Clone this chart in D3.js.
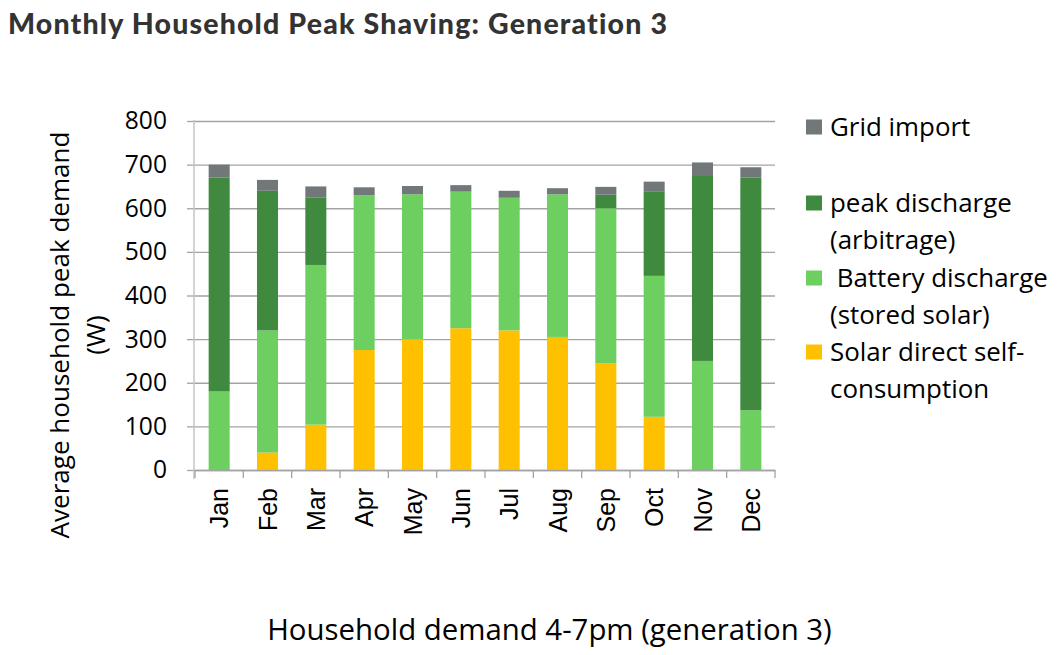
<!DOCTYPE html>
<html><head><meta charset="utf-8">
<script src="https://cdn.jsdelivr.net/npm/d3@7"></script>
<style>body{margin:0;background:#fff}svg{display:block}text{font-variant-ligatures:none}</style>
</head><body>
<svg id="c" width="1062" height="655"></svg>
<script>
const months = ["Jan","Feb","Mar","Apr","May","Jun","Jul","Aug","Sep","Oct","Nov","Dec"];
const solarDirect   = [0, 40, 104, 275, 300, 325, 320, 305, 244, 122, 0, 0];
const batteryStored = [180, 280, 366, 355, 332, 313, 304, 327, 356, 323, 250, 137];
const peakArbitrage = [490, 320, 155, 0, 0, 0, 0, 0, 31, 194, 426, 533];
const gridImport    = [30, 25, 25, 18, 19, 15, 16, 14, 18, 22, 29, 24];
const yTicks = [0,100,200,300,400,500,600,700,800];
const seriesKeys = ["solar","battery","peak","grid"];
const legendItems = [
  {key:"grid", lines:["Grid import"]},
  {key:"peak", lines:["peak discharge","(arbitrage)"]},
  {key:"battery", lines:[" Battery discharge","(stored solar)"]},
  {key:"solar", lines:["Solar direct self-","consumption"]}
];
const colors = {solar:"#FFC000", battery:"#6DCF5F", peak:"#3F8A3E", grid:"#727879"};

const rows = months.map((m,i)=>({month:m, solar:solarDirect[i], battery:batteryStored[i], peak:peakArbitrage[i], grid:gridImport[i]}));
const stacked = d3.stack().keys(seriesKeys)(rows);

const svg = d3.select("#c");
const font = "'Open Sans', sans-serif";
const pLeft = 195, pRight = 775, pTop = 121, pBottom = 470;

function fitSize(sel, target) {
  const w = sel.node().getComputedTextLength();
  const fs = +sel.attr("font-size");
  if (w > 0) sel.attr("font-size", fs * target / w);
  return fs * target / w;
}

const x = d3.scaleBand().domain(months).range([pLeft, pRight]).paddingInner(0.565).paddingOuter(0.2825);
const y = d3.scaleLinear().domain([0, 800]).range([pBottom, pTop]);

// title
const title = svg.append("text").attr("x", 8).attr("y", 33.5).attr("font-family", "Lato, sans-serif").attr("font-weight", 900)
  .attr("font-size", 28.5).attr("fill", "#333").text("Monthly Household Peak Shaving: Generation 3");
{
  const s = title.text();
  const w = title.node().getComputedTextLength();
  title.attr("letter-spacing", (659 - w) / (s.length - 1));
}

// gridlines
const grid = svg.append("g").attr("transform", `translate(${pLeft},0)`)
  .call(d3.axisLeft(y).tickValues(yTicks).tickSize(-(pRight - pLeft)).tickFormat(""));
grid.select(".domain").remove();
grid.selectAll("line").attr("stroke", "#a3a3a3").attr("stroke-width", 1.3);

// y axis with ticks & labels
const ya = svg.append("g").attr("transform", `translate(${pLeft},0)`)
  .call(d3.axisLeft(y).tickValues(yTicks).tickSize(8).tickPadding(20).tickSizeOuter(0));
ya.select(".domain").remove();
ya.selectAll("line").attr("stroke", "#a3a3a3").attr("stroke-width", 1.3);
ya.selectAll("text").attr("font-family", font).attr("font-size", 24.6).attr("fill", "#000");

// vertical axis line
svg.append("line").attr("x1", pLeft - 1).attr("x2", pLeft - 1).attr("y1", y(800) - 1).attr("y2", y(0) + 9)
  .attr("stroke", "#c4c4c4").attr("stroke-width", 1.5);

// bars
svg.append("g").selectAll("g").data(stacked).join("g")
  .attr("fill", d => colors[d.key])
  .selectAll("rect").data(d => d).join("rect")
  .attr("x", d => x(d.data.month))
  .attr("width", x.bandwidth())
  .attr("y", d => y(d[1]))
  .attr("height", d => y(d[0]) - y(d[1]));

// x axis
const xa = svg.append("g").attr("transform", `translate(0,${pBottom})`)
  .call(d3.axisBottom(x).tickSize(0).tickPadding(0));
xa.select(".domain").attr("stroke", "#a3a3a3").attr("stroke-width", 1.3);
xa.selectAll("text").attr("font-family", "'Liberation Sans', Arial, sans-serif").attr("font-size", 25).attr("fill", "#000")
  .attr("text-anchor", "end").attr("dy", "0.36em")
  .attr("transform", "translate(0,18) rotate(-90)");
const gap = (x.step() - x.bandwidth()) / 2;
const edges = months.map(m => x(m) - gap).concat([x(months[months.length-1]) + x.bandwidth() + gap]);
svg.append("g").selectAll("line").data(edges).join("line")
  .attr("x1", d => d).attr("x2", d => d).attr("y1", pBottom).attr("y2", pBottom + 8)
  .attr("stroke", "#a3a3a3").attr("stroke-width", 1.3);

// y axis title
const yt = svg.append("text").attr("transform", "translate(60,335) rotate(-90)")
  .attr("font-family", font).attr("font-size", 25).attr("fill", "#000").attr("text-anchor", "middle");
const yt1 = yt.append("tspan").attr("x", 0).attr("dy", "0.35em").text("Average household peak demand");
yt.append("tspan").attr("x", 0).attr("dy", 36).text("(W)");
{
  const w = yt1.node().getComputedTextLength();
  yt.attr("font-size", 25 * 407 / w);
}

// x axis title
const xt = svg.append("text").attr("x", 549.5).attr("y", 640).attr("font-family", font).attr("font-size", 27)
  .attr("fill", "#000").attr("text-anchor", "middle").text("Household demand 4-7pm (generation 3)");
fitSize(xt, 565);

// legend
const legendY = {grid:127, peak:203, battery:278, solar:352};
const lg = svg.append("g");
const legendTexts = [];
let probe = null;
legendItems.forEach(it => {
  const cy = legendY[it.key];
  lg.append("rect").attr("x", 806).attr("y", cy - 7.5).attr("width", 16).attr("height", 15).attr("fill", colors[it.key]);
  const t = lg.append("text").attr("x", 830).attr("y", cy).attr("font-family", font).attr("font-size", 24).attr("fill", "#000")
    .style("white-space", "pre");
  legendTexts.push(t);
  it.lines.forEach((l, i) => {
    const sp = t.append("tspan").attr("x", 830).attr("dy", i === 0 ? "0.35em" : 37).text(l);
    if (it.key === "battery" && i === 0) probe = sp;
  });
});
{
  const w = probe.node().getComputedTextLength();
  const fs = 24 * 218 / w;
  legendTexts.forEach(t => t.attr("font-size", fs));
}
</script>
</body></html>
